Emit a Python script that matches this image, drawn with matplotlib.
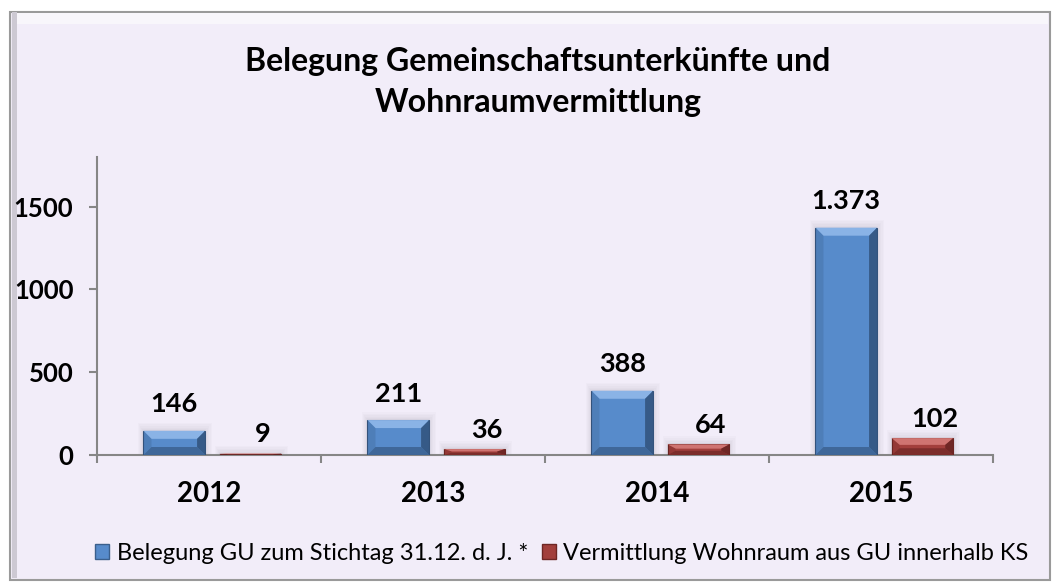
import matplotlib.pyplot as plt
import numpy as np
from matplotlib.patches import Polygon, Rectangle

plt.rcParams["font.family"] = ["Lato", "DejaVu Sans"]

years = ["2012", "2013", "2014", "2015"]
belegung = [146, 211, 388, 1373]
vermittlung = [9, 36, 64, 102]
belegung_labels = ["146", "211", "388", "1.373"]
vermittlung_labels = ["9", "36", "64", "102"]
series_names = ["Belegung GU zum Stichtag 31.12. d. J. *",
                "Vermittlung Wohnraum aus GU innerhalb KS"]
title = "Belegung Gemeinschaftsunterkünfte und\nWohnraumvermittlung"

BG = "#f2edf9"
BLUE = "#578bcb"
RED = "#a23f3c"

fig = plt.figure(figsize=(10.56, 5.87), dpi=100)
fig.patch.set_facecolor("white")
# panel with bevelled border
fig.patches.append(Rectangle((10 / 1056, 7 / 587), 1040 / 1056, 568 / 587, transform=fig.transFigure,
                             facecolor=BG, edgecolor="#9a9a9a", linewidth=1.5, zorder=-10))
fig.patches.append(Rectangle((12 / 1056, 563 / 587), 1036 / 1056, 11 / 587, transform=fig.transFigure,
                             facecolor="#f8f6fb", edgecolor="none", zorder=-9))
fig.patches.append(Rectangle((12 / 1056, 9 / 587), 5 / 1056, 566 / 587, transform=fig.transFigure,
                             facecolor="#cdc9d3", edgecolor="none", zorder=-9))

ax = fig.add_axes([97 / 1056, 1 - 455 / 587, 896 / 1056, 298 / 587])
ax.set_facecolor("none")
ax.set_xlim(0, 4)
ax.set_ylim(0, 1800)

for s in ["top", "right"]:
    ax.spines[s].set_visible(False)
for s in ["left", "bottom"]:
    ax.spines[s].set_color("#868686")
    ax.spines[s].set_linewidth(1.5)

x = np.arange(len(years)) + 0.5
ax.set_yticks([0, 500, 1000, 1500])
ax.tick_params(axis="y", length=6, width=1.5, color="#868686", labelsize=18.5, pad=11)
ax.set_xticks(np.arange(len(years) + 1))
ax.set_xticklabels([])
ax.set_xticks(x, minor=True)
ax.set_xticklabels(years, minor=True)
ax.tick_params(axis="x", which="major", length=6, width=1.5, color="#868686")
ax.tick_params(axis="x", which="minor", length=0, labelsize=20, pad=19)
for t in ax.get_yticklabels() + ax.get_xticklabels(minor=True):
    t.set_fontweight("bold")

w = 0.275
blue_bars = ax.bar(x - 0.155, belegung, w, color=BLUE, edgecolor="#34547d", linewidth=0.8, zorder=3)
red_bars = ax.bar(x + 0.185, vermittlung, w, color=RED, edgecolor="#6e2624", linewidth=0.8, zorder=3)

# bevel shading and soft shadow, derived from each bar's geometry
px_y = 1800 / ax.bbox.height
px_x = 4 / ax.bbox.width
for bars, light, dark in [(blue_bars, "#8ab3e6", "#2c4a70"), (red_bars, "#cf7471", "#5e1f1e")]:
    for b in bars:
        x0, y0 = b.get_x(), b.get_y()
        bw, bh = b.get_width(), b.get_height()
        x1, y1 = x0 + bw, y0 + bh
        ex = 8 * px_x
        ey = min(8 * px_y, bh / 2.5)
        for k in range(1, 6):
            ax.add_patch(Rectangle((x0 - k * 1.0 * px_x, y0), bw + k * 2.4 * px_x, bh + k * 1.6 * px_y,
                                   facecolor="#5a5060", alpha=0.025, edgecolor="none", zorder=2))
        ax.add_patch(Polygon([(x0, y1), (x1, y1), (x1 - ex, y1 - ey), (x0 + ex, y1 - ey)],
                             facecolor=light, edgecolor="none", zorder=4))
        ax.add_patch(Polygon([(x0, y0), (x1, y0), (x1 - ex, y0 + ey), (x0 + ex, y0 + ey)],
                             facecolor=dark, alpha=0.55, edgecolor="none", zorder=4))
        ax.add_patch(Polygon([(x1, y0), (x1, y1), (x1 - ex, y1 - ey), (x1 - ex, y0 + ey)],
                             facecolor=dark, alpha=0.75, edgecolor="none", zorder=4))
        ax.add_patch(Polygon([(x0, y0), (x0, y1), (x0 + ex, y1 - ey), (x0 + ex, y0 + ey)],
                             facecolor=dark, alpha=0.2, edgecolor="none", zorder=4))

for b, lab in zip(blue_bars, belegung_labels):
    ax.annotate(lab, (b.get_x() + b.get_width() / 2, b.get_height()), xytext=(0, 19),
                textcoords="offset points", ha="center", va="center",
                fontsize=19.5, fontweight="bold", color="black", zorder=5)
for b, lab in zip(red_bars, vermittlung_labels):
    ax.annotate(lab, (b.get_x() + b.get_width() / 2, b.get_height()), xytext=(9, 14),
                textcoords="offset points", ha="center", va="center",
                fontsize=19.5, fontweight="bold", color="black", zorder=5)

fig.text(538 / 1056, 1 - 82 / 587, title, ha="center", va="center",
         fontsize=23, fontweight="bold", linespacing=1.5)

handles = [Rectangle((0, 0), 1, 1, facecolor=BLUE, edgecolor="#3b5f8c"),
           Rectangle((0, 0), 1, 1, facecolor=RED, edgecolor="#6e2624")]
fig.legend(handles, series_names, loc="center", bbox_to_anchor=(562 / 1056, 1 - 553 / 587),
           ncol=2, frameon=False, fontsize=17, handlelength=0.6, handleheight=0.6,
           handletextpad=0.3, columnspacing=0.6)

fig.savefig("out.png", dpi=100, facecolor=fig.get_facecolor())
